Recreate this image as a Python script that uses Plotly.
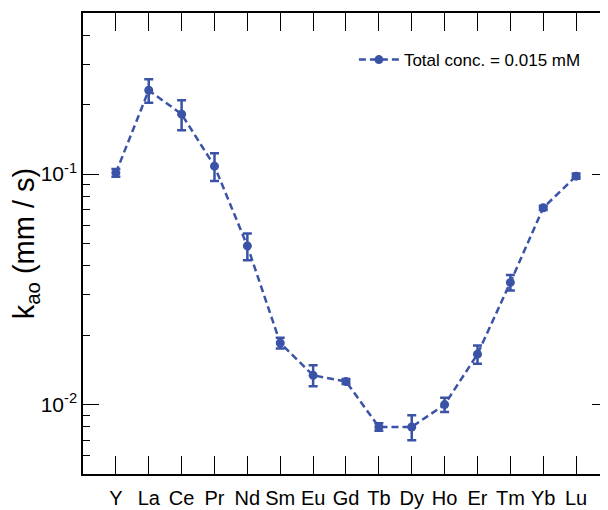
import plotly.graph_objects as go

elements = ["Y", "La", "Ce", "Pr", "Nd", "Sm", "Eu", "Gd", "Tb", "Dy", "Ho", "Er", "Tm", "Yb", "Lu"]
k_ao = [0.1013, 0.231, 0.182, 0.1083, 0.0488, 0.0185, 0.0134, 0.0126, 0.0080, 0.0080, 0.0100, 0.01655, 0.0339, 0.0714, 0.098]
k_err = [0.004, 0.027, 0.027, 0.015, 0.0065, 0.001, 0.0014, 0.0003, 0.0003, 0.001, 0.0007, 0.0015, 0.0026, 0.0015, 0.0025]
y_tickvals = [0.01, 0.1]
y_ticktext = ["10<sup>-2</sup>", "10<sup>-1</sup>"]
series_name = "Total conc. = 0.015 mM"

BLUE = "#3a53a6"
FONT = "Liberation Sans, Arial, Helvetica, sans-serif"

fig = go.Figure()
fig.add_trace(go.Scatter(
    x=elements, y=k_ao,
    mode="lines+markers",
    name=series_name,
    line=dict(color=BLUE, width=2.5, dash="7px,4px"),
    marker=dict(color=BLUE, size=9, symbol="circle"),
    error_y=dict(type="data", array=k_err, visible=True, color=BLUE, thickness=2.5, width=4.5),
))

# page body has an 8px margin, so the figure is sized/offset to compensate
fig.update_layout(
    width=602, height=502,
    margin=dict(l=75, r=0, t=5, b=36),
    paper_bgcolor="white", plot_bgcolor="white",
    font=dict(family=FONT, color="black"),
    showlegend=True,
    legend=dict(x=0.516, y=0.937, xanchor="left", yanchor="top",
                bgcolor="rgba(0,0,0,0)", font=dict(size=17, family=FONT),
                itemwidth=40),
    xaxis=dict(
        type="category", range=[-1, 14.97],
        showline=True, linecolor="black", linewidth=1.5, mirror="ticks",
        ticks="inside", ticklen=18, tickwidth=1.2, tickcolor="black",
        showgrid=False, zeroline=False,
        tickfont=dict(size=20, family=FONT),
        ticklabelstandoff=5,
    ),
    yaxis=dict(
        type="log", range=[-2.30103, -0.30103],
        showline=True, linecolor="black", linewidth=1.5, mirror="ticks",
        ticks="inside", ticklen=16, tickwidth=1.2, tickcolor="black",
        tickvals=y_tickvals, ticktext=y_ticktext,
        showgrid=False, zeroline=False,
        tickfont=dict(size=21, family=FONT),
        minor=dict(ticks="inside", ticklen=7, tickwidth=1.2, tickcolor="black", dtick="D1", showgrid=False),
        title=dict(text="k<sub>ao</sub> (mm / s)", font=dict(size=29, family=FONT), standoff=1),
    ),
)

fig.write_html("out.html")
